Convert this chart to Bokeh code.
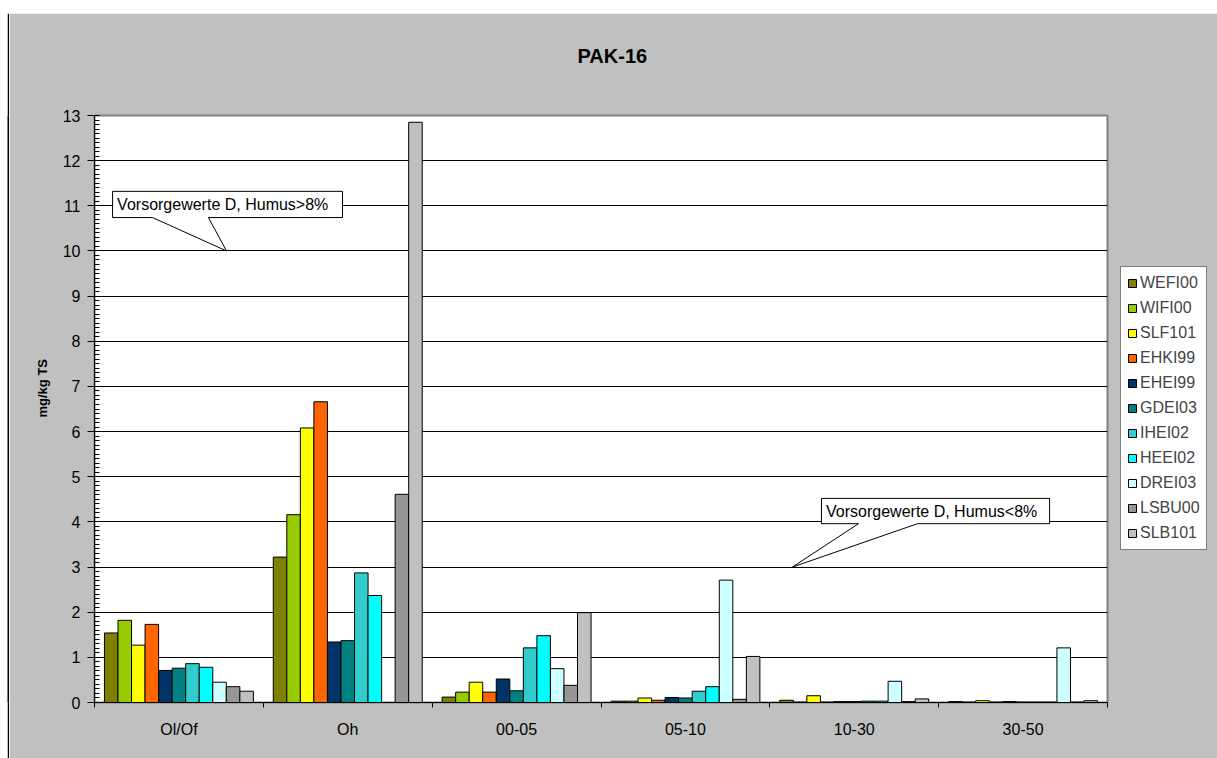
from bokeh.embed import file_html
from bokeh.layouts import column, row
from bokeh.models import (ColumnDataSource, FixedTicker, Label, Legend, LegendItem,
                          Range1d, SingleIntervalTicker, Spacer, Title)
from bokeh.plotting import figure
from bokeh.resources import INLINE
from bokeh.transform import dodge

# Soil layers (x categories)
layers = ["Ol/Of", "Oh", "00-05", "05-10", "10-30", "30-50"]

# PAK-16 contents per site, mg/kg dry matter, one value per layer
wefi00 = [1.54, 3.22, 0.12, 0.03, 0.05, 0.02]
wifi00 = [1.82, 4.16, 0.23, 0.03, 0.01, 0.01]
slf101 = [1.27, 6.08, 0.45, 0.10, 0.15, 0.04]
ehki99 = [1.73, 6.66, 0.23, 0.05, 0.01, 0.01]
ehei99 = [0.71, 1.34, 0.52, 0.11, 0.02, 0.02]
gdei03 = [0.76, 1.37, 0.26, 0.10, 0.02, 0.01]
ihei02 = [0.86, 2.87, 1.21, 0.25, 0.03, 0.01]
heei02 = [0.78, 2.37, 1.48, 0.35, 0.03, 0.01]
drei03 = [0.45, 0.00, 0.75, 2.71, 0.47, 1.21]
lsbu00 = [0.35, 4.61, 0.38, 0.07, 0.02, 0.01]
slb101 = [0.25, 12.85, 1.99, 1.02, 0.08, 0.04]

sites = ["WEFI00", "WIFI00", "SLF101", "EHKI99", "EHEI99", "GDEI03",
         "IHEI02", "HEEI02", "DREI03", "LSBU00", "SLB101"]
site_values = [wefi00, wifi00, slf101, ehki99, ehei99, gdei03,
               ihei02, heei02, drei03, lsbu00, slb101]
colors = ["#808000", "#99CC00", "#FFFF00", "#FF6600", "#003366", "#008080",
          "#33CCCC", "#00FFFF", "#CCFFFF", "#969696", "#C0C0C0"]

# Precautionary values (Vorsorgewerte) in mg/kg
precaution_labels = ["Vorsorgewerte D, Humus>8%", "Vorsorgewerte D, Humus<8%"]
precaution_values = [10.0, 3.0]

FONT = "Liberation Sans"
BAR_W = 0.0802

# callout boxes: (left, right, bottom, top, base_left, base_right, tip_x) in data units
callout_geom = [
    (0.107, 1.469, 10.74, 11.32, 0.344, 0.675, 0.782),
    (4.306, 5.657, 3.96, 4.52, 4.525, 4.875, 4.134),
]

data = {"x": [i + 0.5 for i in range(len(layers))]}
for name, vals in zip(sites, site_values):
    data[name] = vals
src = ColumnDataSource(data)

p = figure(width=1208, height=745, frame_width=1013, frame_height=587,
           x_range=Range1d(0, len(layers)), y_range=Range1d(0, 13),
           output_backend="svg", toolbar_location=None, title=None,
           min_border_left=85, min_border_right=110, min_border_top=102, min_border_bottom=56,
           background_fill_color="white", border_fill_color="#C0C0C0",
           outline_line_color="#808080", outline_line_width=2)

items = []
for i, (name, col) in enumerate(zip(sites, colors)):
    r = p.vbar(x=dodge("x", (i - 5) * BAR_W), top=name, width=BAR_W, source=src,
               fill_color=col, line_color="black", line_width=1)
    items.append(LegendItem(label=name, renderers=[r]))

# axes
p.yaxis.ticker = SingleIntervalTicker(interval=1, num_minor_ticks=10)
p.yaxis.major_tick_out = 7
p.yaxis.major_tick_in = 3
p.yaxis.minor_tick_out = 0
p.yaxis.minor_tick_in = 5
p.yaxis.major_label_standoff = 7
p.xaxis.ticker = FixedTicker(ticks=data["x"], minor_ticks=list(range(len(layers) + 1)))
p.xaxis.major_label_overrides = {c: lab for c, lab in zip(data["x"], layers)}
p.xaxis.major_tick_out = 0
p.xaxis.major_tick_in = 0
p.xaxis.minor_tick_out = 5
p.xaxis.minor_tick_in = 0
p.xaxis.major_label_standoff = 13
for ax in (p.xaxis, p.yaxis):
    ax.axis_line_color = "black"
    ax.major_tick_line_color = "black"
    ax.minor_tick_line_color = "black"
    ax.major_label_text_font = FONT
    ax.major_label_text_font_size = "16px"
    ax.major_label_text_color = "black"

p.xgrid.grid_line_color = None
p.ygrid.grid_line_color = "black"
p.ygrid.grid_line_width = 1

# callouts pointing at the precautionary values
for text, target, (l, r_, b, t, bl, br, tx) in zip(precaution_labels, precaution_values, callout_geom):
    p.patch(x=[l, r_, r_, br, tx, bl, l], y=[t, t, b, b, target, b, b],
            fill_color="white", line_color="black", line_width=1)
    p.add_layout(Label(x=l + 0.027, y=(b + t) / 2, text=text, text_font=FONT,
                       text_font_size="16px", text_baseline="middle", text_align="left",
                       text_color="black"))

legend = Legend(items=items, location=(13, 152), label_text_font=FONT,
                label_text_font_size="16px", glyph_width=10, glyph_height=10,
                label_height=20, spacing=5, padding=6, label_standoff=3, margin=0,
                border_line_color="black", border_line_width=1,
                background_fill_color="white", background_fill_alpha=1)
p.add_layout(legend, "right")

# blank band between the plot area and the chart title
p.add_layout(Title(text=" ", standoff=30, text_font=FONT, text_font_size="16px"), "above")
p.add_layout(Title(text="PAK-16", align="left", offset=483, standoff=0,
                   text_font=FONT, text_font_size="20px", text_font_style="bold",
                   text_color="black"), "above")
p.add_layout(Title(text="mg/kg TS", align="left", offset=285, standoff=20,
                   text_font=FONT, text_font_size="13px", text_font_style="bold",
                   text_color="black"), "left")


def solid_bar(w, h):
    """A plain black strip used for the chart-area border."""
    f = figure(width=w, height=h, output_backend="svg", toolbar_location=None,
               x_axis_type=None, y_axis_type=None, min_border=0,
               background_fill_color="black", border_fill_color="black",
               outline_line_color=None)
    f.grid.visible = False
    return f


layout = column(
    Spacer(width=1217, height=11),
    row(Spacer(width=7, height=747),
        column(solid_bar(1210, 2),
               row(solid_bar(2, 745), p))),
)

open("out.html", "w").write(file_html(layout, INLINE))
